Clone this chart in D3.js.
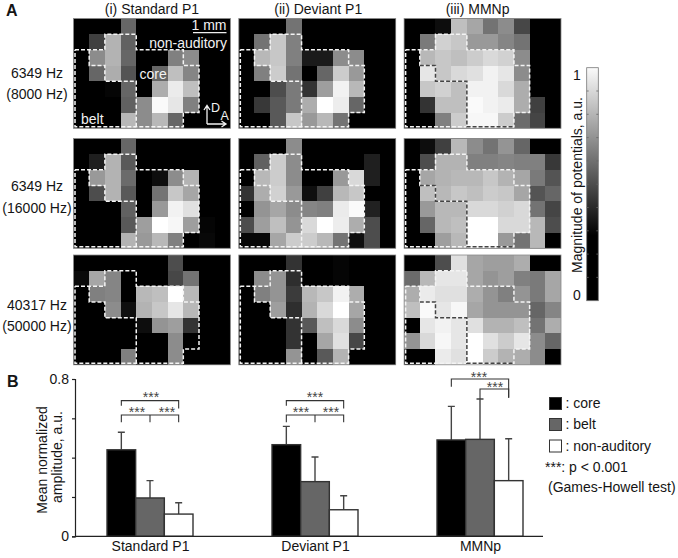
<!DOCTYPE html>
<meta charset="utf-8">
<head>
<style>
body { margin: 0; background: #fff; }
text { font-family: 'Liberation Sans', sans-serif; fill: #151515; }
</style>
<script src="https://d3js.org/d3.v7.min.js"></script>
</head>
<body>
<svg id="chart" width="678" height="558"></svg>
<script>

// grey level of every recording site, 7 rows x 10 columns
var std6349a = [
  [0,0,0,.40,0,0,0,0,0,0],
  [0,.25,.70,.38,0,0,0,0,0,0],
  [0,.55,.70,.40,0,0,.50,.55,0,0],
  [0,.40,.68,.33,0,.40,.75,.52,0,0],
  [0,0,.02,.40,0,.68,.92,.75,0,0],
  [0,0,0,.38,.55,.98,.90,.50,0,0],
  [0,0,0,.72,.55,.72,.40,0,0,0]
]
var dev6349a = [
  [0,0,0,.45,0,0,0,0,0,0],
  [0,.45,.78,.50,0,0,0,0,0,0],
  [0,.72,.78,.50,.10,.10,.55,.55,0,0],
  [0,.50,.80,.45,0,.40,.80,.60,0,0],
  [0,0,.30,.48,.20,.62,.95,.72,0,0],
  [0,.22,.35,.48,.68,1,.93,.40,0,0],
  [0,0,.35,.78,.60,.72,.45,0,0,0]
]
var mmn6349a = [
  [0,0,.05,.75,.65,.45,.55,.28,0,0],
  [0,.48,.82,.78,.60,.60,.52,.45,0,0],
  [0,.72,.78,.75,.80,.85,.82,.55,0,0],
  [0,.90,.78,.85,.88,.95,.90,.55,0,0],
  [0,.78,.82,.75,.95,.95,.85,.68,0,0],
  [0,.20,.75,.75,.98,.95,.92,.68,.25,0],
  [0,0,.50,.80,.97,.97,.80,.42,.27,0]
]
var std6349b = [
  [0,0,0,.40,0,0,0,0,0,0],
  [0,.12,.70,.35,0,0,0,0,0,0],
  [0,.60,.70,.42,0,.05,.55,.70,0,0],
  [0,.30,.70,.35,0,.45,.78,.65,0,0],
  [0,0,0,.38,0,.60,.95,.88,0,0],
  [0,0,0,.35,.62,1,.97,.62,.02,0],
  [0,0,0,.70,.60,.72,.50,0,.03,0]
]
var dev6349b = [
  [0,0,0,.55,0,0,0,0,0,0],
  [0,.38,.80,.55,0,0,0,0,.12,0],
  [0,.72,.80,.55,0,0,.60,.85,.12,0],
  [.20,.68,.82,.60,.06,.25,.72,.78,0,0],
  [0,.58,.65,.55,.52,.50,.92,.98,.13,0],
  [.30,.62,.75,.58,.85,1,.93,.68,.30,0],
  [.03,.03,.65,.80,.80,.72,.45,.06,.30,0]
]
var mmn6349b = [
  [0,.05,.25,.72,.55,.45,.58,.40,0,0],
  [0,.30,.70,.70,.50,.50,.52,.50,.50,.22],
  [0,.65,.70,.72,.72,.78,.70,.65,.48,.33],
  [0,.75,.72,.78,.75,.80,.78,.65,.33,.40],
  [0,.60,.72,.72,.85,.85,.82,.85,.45,.27],
  [0,.40,.72,.75,1,1,.85,.85,.72,.30],
  [0,0,.62,.72,1,1,.60,.45,.72,0]
]
var std40317 = [
  [0,0,0,0,0,0,.30,0,0,0],
  [.04,.65,.52,0,0,0,.28,.45,0,0],
  [0,.50,.52,0,.72,.75,1,.72,0,0],
  [0,0,.55,.06,.70,.78,.90,.72,0,0],
  [0,0,0,0,.05,.58,.62,.20,0,0],
  [0,0,0,0,0,0,.55,0,0,0],
  [0,0,0,.50,0,0,.55,0,0,0]
]
var dev40317 = [
  [0,0,0,.20,0,0,.02,0,0,0],
  [0,.55,.58,.18,0,0,.02,0,0,0],
  [0,.50,.58,.23,.72,.78,.95,.68,0,0],
  [0,0,.62,.18,.70,.85,1,.65,0,0],
  [0,0,0,.20,.35,.75,.85,.55,0,0],
  [0,0,0,.20,0,.65,.88,.28,0,0],
  [0,0,0,.58,0,.35,.70,0,0,0]
]
var mmn40317 = [
  [0,0,.30,.88,.65,.62,.62,.68,0,0],
  [.42,.72,.90,.90,.65,.58,.62,.50,.48,.65],
  [.68,.92,.88,.88,.68,.58,.50,.58,.48,.65],
  [.75,.98,.90,.97,.65,.58,.58,.58,.40,.52],
  [0,.90,.95,.90,.88,.70,.70,.75,.45,.68],
  [.58,.85,.97,.90,1,.88,.80,.90,.55,.40],
  [0,0,.92,.88,1,.80,.70,.68,.55,0]
]

var columnTitles = ['(i) Standard P1', '(ii) Deviant P1', '(iii) MMNp']
var rowTitles = [['6349 Hz', '(8000 Hz)'], ['6349 Hz', '(16000 Hz)'], ['40317 Hz', '(50000 Hz)']]
var heatmaps = [
  [std6349a, dev6349a, mmn6349a],
  [std6349b, dev6349b, mmn6349b],
  [std40317, dev40317, mmn40317]
]

// area borders, in cell units
var outerBorder = [[0,2],[2,2],[2,1],[4,1],[4,2],[7,2],[7,3],[8,3],[8,6],[7,6],[7,7],[0,7],[0,2]]
var innerBorder = [[1,2],[1,3],[2,3],[2,4],[4,4],[4,7]]
var mmnBorder = [[1,3],[2,3],[2,4],[4,4],[4,7],[7,7]]

// bars
var groups = ['Standard P1', 'Deviant P1', 'MMNp']
var areas = ['core', 'belt', 'non-auditory']
var areaFill = ['#000', '#666', '#fff']
var coreMean = [0.44, 0.466, 0.49]
var coreTop = [0.529, 0.559, 0.661]
var beltMean = [0.195, 0.278, 0.493]
var beltTop = [0.283, 0.403, 0.698]
var nonMean = [0.113, 0.135, 0.283]
var nonTop = [0.171, 0.206, 0.496]
var barMeans = [coreMean, beltMean, nonMean]
var barTops = [coreTop, beltTop, nonTop]
var yTicks = [0, 0.2, 0.4, 0.6, 0.8]

var svg = d3.select('#chart')

var panelX = d3.scaleBand().domain(d3.range(3)).range([73.5, 561]).paddingInner(0.051)
var rowTop = [18.5, 138.5, 255]
var panelH = 109.8

var grey = d3.scaleLinear().domain([0, 1]).range(['#000', '#fff'])
var cellX = d3.scaleBand().domain(d3.range(10)).range([0, panelX.bandwidth()])
var cellY = d3.scaleBand().domain(d3.range(7)).range([0, panelH])
var gridX = d3.scaleLinear().domain([0, 10]).range([0, panelX.bandwidth()])
var gridY = d3.scaleLinear().domain([0, 7]).range([0, panelH])
// the left and bottom borders sit just inside the panel
var borderLine = d3.line()
  .x(function (d) { return gridX(d[0]) + (d[0] == 0 ? 1.5 : 0) })
  .y(function (d) { return gridY(d[1]) - (d[1] == 7 ? 1.5 : 0) })

heatmaps.forEach(function (row, r) {
  row.forEach(function (cells, c) {
    var g = svg.append('g').attr('transform', 'translate(' + panelX(c) + ',' + rowTop[r] + ')')

    g.append('rect').attr('width', panelX.bandwidth()).attr('height', panelH).attr('fill', '#000')

    g.selectAll('g.row').data(cells).enter().append('g').attr('class', 'row')
      .attr('transform', function (d, i) { return 'translate(0,' + cellY(i) + ')' })
      .selectAll('rect').data(function (d) { return d }).enter().append('rect')
      .attr('x', function (d, i) { return cellX(i) })
      .attr('width', cellX.bandwidth())
      .attr('height', cellY.bandwidth())
      .attr('fill', function (d) { return grey(d) })
      .attr('shape-rendering', 'crispEdges')

    g.append('rect')
      .attr('width', panelX.bandwidth()).attr('height', panelH)
      .attr('fill', 'none').attr('stroke', '#8a8a8a').attr('stroke-width', 0.8)

    g.append('path').attr('d', borderLine(outerBorder))
      .attr('fill', 'none').attr('stroke', '#f4f4f4').attr('stroke-width', 1.5).attr('stroke-dasharray', '4,2')
    g.append('path').attr('d', borderLine(innerBorder))
      .attr('fill', 'none').attr('stroke', '#f4f4f4').attr('stroke-width', 1.5).attr('stroke-dasharray', '4,2')
    if (c == 2) {
      g.append('path').attr('d', borderLine(mmnBorder))
        .attr('fill', 'none').attr('stroke', '#444').attr('stroke-width', 1.5).attr('stroke-dasharray', '4,2')
    }
  })
})

// column and row titles
svg.selectAll('text.coltitle').data(columnTitles).enter().append('text')
  .attr('class', 'coltitle')
  .attr('x', function (d, i) { return panelX(i) + panelX.bandwidth() / 2 + [0, 1, -5][i] })
  .attr('y', 14)
  .attr('text-anchor', 'middle')
  .style('font-size', '14px')
  .text(function (d) { return d })

var rowTextY = [[78, 99], [191, 213], [310, 331]]
rowTitles.forEach(function (lines, r) {
  lines.forEach(function (t, i) {
    svg.append('text').attr('x', 37).attr('y', rowTextY[r][i])
      .attr('text-anchor', 'middle').style('font-size', '14px').text(t)
  })
})

svg.append('text').attr('x', 6).attr('y', 16).style('font-size', '16px').style('font-weight', 'bold').text('A')
svg.append('text').attr('x', 7).attr('y', 387).style('font-size', '16px').style('font-weight', 'bold').text('B')

// labels inside the first panel
var inside = [
  { t: '1 mm', x: 226.5, y: 30, s: 14, a: 'end' },
  { t: 'non-auditory', x: 227, y: 48, s: 14, a: 'end' },
  { t: 'core', x: 139.5, y: 79, s: 14, a: 'start' },
  { t: 'belt', x: 81, y: 124, s: 14, a: 'start' },
  { t: 'D', x: 211, y: 112, s: 12.5, a: 'start' },
  { t: 'A', x: 220.5, y: 120, s: 12.5, a: 'start' }
]
svg.selectAll('text.inside').data(inside).enter().append('text')
  .attr('class', 'inside')
  .attr('x', function (d) { return d.x }).attr('y', function (d) { return d.y })
  .attr('text-anchor', function (d) { return d.a })
  .style('font-size', function (d) { return d.s + 'px' }).style('fill', '#f2f2f2')
  .text(function (d) { return d.t })

svg.append('path').attr('d', 'M193,32.7H226.5').attr('stroke', '#eee').attr('stroke-width', 1.2)
svg.append('path')
  .attr('d', 'M207,124V106M204,110L207,105.5L210,110M207,124H225.5M221.5,121L226,124L221.5,127')
  .attr('fill', 'none').attr('stroke', '#f2f2f2').attr('stroke-width', 1.3)

// colour bar
var barY = d3.scaleLinear().domain([0, 1]).range([300.7, 67.7])
var barGrey = d3.scaleLinear().domain([0, 0.28, 1]).range(['#000', '#000', '#fbfbfb'])
var grad = svg.append('defs').append('linearGradient').attr('id', 'cbar')
  .attr('x1', 0).attr('x2', 0).attr('y1', 1).attr('y2', 0)
grad.selectAll('stop').data([0, 0.28, 1]).enter().append('stop')
  .attr('offset', function (d) { return d })
  .attr('stop-color', function (d) { return barGrey(d) })

svg.append('rect').attr('x', 586.7).attr('y', barY(1)).attr('width', 11.6).attr('height', barY(0) - barY(1))
  .attr('fill', 'url(#cbar)').attr('stroke', '#777').attr('stroke-width', 0.8)

svg.selectAll('path.cbtick').data(d3.range(1, 10)).enter().append('path')
  .attr('class', 'cbtick')
  .attr('d', function (d) {
    var yy = barY(d / 10)
    return 'M586.7,' + yy + 'h2M598.3,' + yy + 'h-2'
  })
  .attr('stroke', '#666').attr('stroke-width', 0.8)

svg.append('text').attr('x', 577).attr('y', 80).attr('text-anchor', 'middle').style('font-size', '14px').text('1')
svg.append('text').attr('x', 577).attr('y', 300).attr('text-anchor', 'middle').style('font-size', '14px').text('0')
svg.append('text').attr('transform', 'translate(582,185) rotate(-90)')
  .attr('text-anchor', 'middle').style('font-size', '14px').text('Magnitude of potentials, a.u.')

// bar chart
var x0 = d3.scalePoint().domain(groups).range([150, 480])
var x1 = d3.scaleBand().domain(areas).range([-43, 43])
var y = d3.scaleLinear().domain([0, 0.8]).range([536.3, 379])

var bars = svg.append('g')
areas.forEach(function (a, s) {
  groups.forEach(function (gr, i) {
    var cx = x0(gr) + x1(a) + x1.bandwidth() / 2
    bars.append('path')
      .attr('d', 'M' + cx + ',' + y(barMeans[s][i]) + 'V' + y(barTops[s][i]) + 'm-3.5,0h7')
      .attr('fill', 'none').attr('stroke', '#444').attr('stroke-width', 1.4)
    bars.append('rect')
      .attr('x', x0(gr) + x1(a)).attr('y', y(barMeans[s][i]))
      .attr('width', x1.bandwidth()).attr('height', y(0) - y(barMeans[s][i]))
      .attr('fill', areaFill[s]).attr('stroke', '#333').attr('stroke-width', 1.4)
  })
})

var yAxis = svg.append('g').attr('transform', 'translate(75,0)')
  .call(d3.axisLeft(y).tickValues(yTicks).tickSizeOuter(0).tickSize(3)
    .tickFormat(function (d) { return d == 0 || d == 0.8 ? d : '' }))
yAxis.selectAll('text').style('font-size', '14px').attr('x', -6)
yAxis.selectAll('path,line').attr('stroke', '#222').attr('stroke-width', 1.2)

var xAxis = svg.append('g').attr('transform', 'translate(0,' + y(0) + ')')
  .call(d3.axisBottom(x0).tickSize(0).tickPadding(5))
xAxis.select('.domain').attr('d', 'M75,0H543').attr('stroke', '#222').attr('stroke-width', 1.2)
xAxis.selectAll('text').style('font-size', '14px')

svg.append('text').attr('transform', 'translate(47,460) rotate(-90)')
  .attr('text-anchor', 'middle').style('font-size', '14px').text('Mean normalized')
svg.append('text').attr('transform', 'translate(62,457) rotate(-90)')
  .attr('text-anchor', 'middle').style('font-size', '14px').text('amplitude, a.u.')

// significance brackets, [group, from area, to area, top, left foot, right foot]
var brackets = [
  [0, 0, 2, 0.69, 0.664, 0.65],
  [0, 0, 2, 0.617, 0.58, 0.58],
  [1, 0, 2, 0.69, 0.664, 0.65],
  [1, 0, 2, 0.617, 0.58, 0.58],
  [2, 0, 2, 0.80, 0.76, 0.705],
  [2, 1, 2, 0.749, 0.698, 0.705]
]
var midTicks = [0, 1]
var stars = [
  [151, 395], [137, 409.5], [167, 409.5],
  [315, 395], [301, 409.5], [331, 409.5],
  [479, 375], [495, 384.5]
]
function barCentre(g, a) { return x0(groups[g]) + x1(areas[a]) + x1.bandwidth() / 2 }

svg.selectAll('path.bracket').data(brackets).enter().append('path')
  .attr('class', 'bracket')
  .attr('d', function (d) {
    return 'M' + barCentre(d[0], d[1]) + ',' + y(d[4]) + 'V' + y(d[3]) + 'H' + barCentre(d[0], d[2]) + 'V' + y(d[5])
  })
  .attr('fill', 'none').attr('stroke', '#333').attr('stroke-width', 1.1)
svg.selectAll('path.midtick').data(midTicks).enter().append('path')
  .attr('class', 'midtick')
  .attr('d', function (d) { return 'M' + barCentre(d, 1) + ',' + y(0.617) + 'V' + y(0.58) })
  .attr('fill', 'none').attr('stroke', '#333').attr('stroke-width', 1.1)
svg.selectAll('text.star').data(stars).enter().append('text')
  .attr('class', 'star')
  .attr('x', function (d) { return d[0] }).attr('y', function (d) { return d[1] + 7 })
  .attr('text-anchor', 'middle').style('font-size', '14px').style('fill', '#444')
  .text('***')

// legend
var legendBox = [397.5, 418.5, 440]
var legendText = [407.5, 429, 450.5]
areas.forEach(function (a, i) {
  svg.append('rect').attr('x', 549.5).attr('y', legendBox[i]).attr('width', 12).attr('height', 12)
    .attr('fill', areaFill[i]).attr('stroke', '#333').attr('stroke-width', 1)
  svg.append('text').attr('x', 565.5).attr('y', legendText[i]).style('font-size', '14px').text(': ' + a)
})
svg.append('text').attr('x', 545).attr('y', 472).style('font-size', '14px').text('***: p < 0.001')
svg.append('text').attr('x', 548).attr('y', 491.5).style('font-size', '14px').text('(Games-Howell test)')

</script>
</body>
</html>
